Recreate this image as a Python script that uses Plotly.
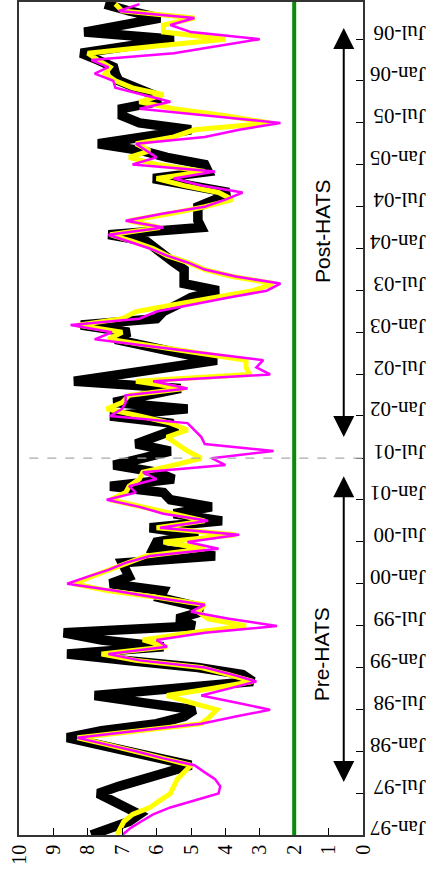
import pandas as pd
import plotly.graph_objects as go

months = pd.date_range("1997-01-01", periods=120, freq="MS")

black_series = [
    7.9, 7.4, 6.8, 6.5, 6.9, 7.3, 7.7, 7.1, 6.4, 5.7, 5.0, 5.9, 6.8, 7.7, 8.6, 7.6, 6.0, 5.2, 4.9, 6.4,
    7.8, 5.5, 3.2, 3.5, 4.8, 6.9, 8.6, 5.8, 7.6, 8.7, 4.9, 5.4, 4.7, 5.0, 5.9, 5.8, 7.35, 6.8, 6.9, 7.0,
    4.3, 6.1, 6.0, 4.8, 6.2, 4.1, 5.5, 4.4, 5.6, 5.8, 7.35, 5.5, 6.0, 7.25, 6.4, 5.6, 6.6, 6.0, 5.5, 5.6,
    7.35, 5.1, 7.25, 6.3, 5.3, 8.4, 7.0, 5.6, 4.25, 5.3, 6.4, 7.2, 6.8, 8.2, 6.0, 5.8, 5.4, 5.0, 4.2, 5.2,
    5.2, 5.2, 5.5, 5.8, 6.0, 6.3, 7.4, 4.7, 4.8, 4.8, 4.8, 4.3, 3.9, 5.0, 6.1, 4.5, 4.6, 5.7, 6.4, 7.7,
    6.3, 5.0, 6.5, 7.0, 7.0, 6.0, 6.1, 6.6, 7.1, 7.2, 7.25, 7.7, 8.2, 6.8, 5.5, 8.1, 6.9, 5.9, 6.8, 7.5,
]
yellow_series = [
    7.15, 7.05, 6.95, 6.7, 6.2, 5.9, 5.6, 5.5, 5.4, 5.2, 5.0, 5.8, 6.6, 7.5, 8.3, 6.5, 4.7, 4.45, 4.25, 5.0,
    5.7, 4.4, 3.2, 3.9, 4.7, 6.6, 7.6, 5.7, 6.4, 5.0, 3.4, 4.5, 4.8, 4.6, 5.9, 7.4, 8.4, 7.9, 7.4, 6.9,
    6.3, 4.6, 5.8, 3.7, 6.0, 4.6, 5.5, 6.3, 7.35, 6.9, 6.8, 6.5, 6.4, 5.5, 4.7, 5.1, 5.4, 5.7, 5.1, 5.6,
    6.5, 7.45, 7.0, 6.8, 5.2, 6.6, 3.3, 3.4, 3.4, 4.7, 6.0, 7.4, 7.0, 8.3, 7.0, 6.6, 5.5, 4.4, 3.2, 2.6,
    3.8, 4.6, 5.1, 5.7, 6.1, 6.7, 7.35, 5.9, 6.8, 5.6, 4.6, 3.8, 4.2, 5.2, 6.0, 4.6, 6.0, 6.8, 6.2, 6.6,
    5.5, 4.9, 2.7, 4.0, 5.5, 6.5, 5.8, 6.7, 7.2, 7.5, 7.35, 7.7, 8.0, 6.0, 4.0, 5.8, 5.8, 4.9, 7.0, 7.2,
]
magenta_series = [
    7.0, 6.75, 6.45, 6.1, 5.6, 4.9, 4.2, 4.15, 4.3, 4.6, 4.9, 5.8, 6.6, 7.5, 8.3, 6.5, 4.7, 3.7, 2.7, 3.7,
    4.7, 3.9, 3.1, 3.8, 4.6, 6.5, 7.4, 5.7, 6.0, 4.6, 2.5, 3.9, 5.0, 4.6, 6.0, 7.2, 8.6, 8.0, 7.4, 6.9,
    6.2, 4.2, 5.1, 3.6, 5.9, 4.5, 5.8, 6.5, 7.45, 6.6, 6.8, 6.0, 6.4, 4.0, 4.4, 2.6, 4.6, 4.7, 4.9, 5.1,
    7.35, 7.0, 6.9, 6.9, 5.1, 6.1, 2.7, 3.1, 2.9, 4.6, 6.2, 7.8, 7.3, 8.5, 6.5, 6.0, 5.0, 3.9, 2.8, 2.4,
    3.7, 4.6, 5.1, 5.7, 6.2, 6.8, 7.4, 5.8, 6.9, 5.8, 4.6, 4.0, 3.5, 4.7, 5.5, 4.3, 6.7, 6.0, 6.3, 6.6,
    4.6, 3.6, 2.4, 4.5, 6.5, 5.6, 6.4, 7.2, 7.26, 7.8, 7.4, 7.9, 5.5, 4.2, 3.0, 5.0, 5.6, 4.9, 7.1, 6.5,
]

THRESHOLD = 2
HATS_DATE = "2001-07-01"
value_ticks = list(range(0, 11))
DATE_RANGE = ["1997-01-01", "2006-12-10"]

pre_span = ("1997-08-20", "2001-04-20")
post_span = ("2001-10-01", "2006-08-25")
ARROW_X = 0.56
LABEL_X = 1.18

fig = go.Figure()
fig.add_trace(go.Scatter(x=black_series, y=months, mode="lines",
                         line=dict(color="black", width=9.5), showlegend=False))
fig.add_trace(go.Scatter(x=yellow_series, y=months, mode="lines",
                         line=dict(color="#ffff00", width=5), showlegend=False))
fig.add_trace(go.Scatter(x=magenta_series, y=months, mode="lines",
                         line=dict(color="#ff00ff", width=2.5), showlegend=False))

fig.add_vline(x=THRESHOLD, line_color="#0a8a0a", line_width=4)
fig.add_shape(type="line", xref="x", yref="y", x0=9.7, x1=0, y0=HATS_DATE, y1=HATS_DATE,
              line=dict(color="#aaaaaa", width=1.2, dash="dash"))

for (a, b) in (pre_span, post_span):
    fig.add_annotation(x=ARROW_X, y=a, ax=ARROW_X, ay=b, xref="x", yref="y",
                       axref="x", ayref="y", text="", showarrow=True,
                       arrowhead=2, arrowside="end+start", arrowsize=2.1,
                       arrowwidth=2, arrowcolor="black")

fig.add_annotation(x=LABEL_X, y="1999-03-01", text="Pre-HATS", showarrow=False,
                   textangle=-90, font=dict(family="Liberation Sans", size=21, color="black"))
fig.add_annotation(x=LABEL_X, y="2004-03-15", text="Post-HATS", showarrow=False,
                   textangle=-90, font=dict(family="Liberation Sans", size=21, color="black"))

fig.update_layout(
    width=430, height=887,
    margin=dict(l=19, r=67, t=2, b=52, autoexpand=False),
    paper_bgcolor="white", plot_bgcolor="white",
    xaxis=dict(range=[10, 0], tickvals=value_ticks, tickangle=-90, automargin=False,
               ticks="inside", ticklen=7, tickcolor="black",
               showline=True, mirror=True, linecolor="#333333", linewidth=1.5,
               showgrid=False, zeroline=False,
               tickfont=dict(family="Liberation Serif", size=20, color="black")),
    yaxis=dict(type="date", range=DATE_RANGE, side="right", automargin=False,
               tick0="1997-01-01", dtick="M6", tickformat="%b-%y", tickangle=180,
               ticks="inside", ticklen=7, tickcolor="black", ticklabelstandoff=57,
               showline=True, mirror=True, linecolor="#333333", linewidth=1.5,
               showgrid=False, zeroline=False,
               tickfont=dict(family="Liberation Serif", size=21, color="black")),
)

fig.write_html("out.html", config={"displayModeBar": False},
               post_script="document.body.style.margin='0px';document.body.style.overflow='hidden';")
